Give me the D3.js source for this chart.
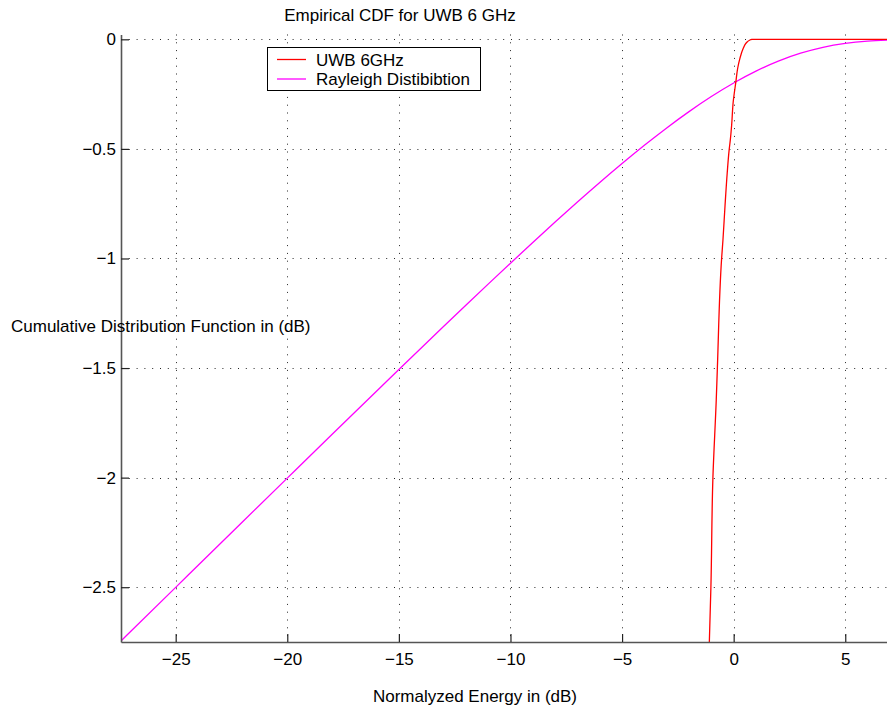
<!DOCTYPE html>
<html>
<head>
<meta charset="utf-8">
<script src="https://cdn.jsdelivr.net/npm/d3@7"></script>
<style>
  html, body { margin: 0; padding: 0; background: #fff; }
  svg { display: block; font-family: "Liberation Sans", Arial, Helvetica, sans-serif; }
</style>
</head>
<body>
<svg id="chart" width="887" height="710"></svg>
<script>
// Normalized energy (dB) and CDF (log10) for the measured UWB 6 GHz channel
const uwbEnergy = [-1.09, -1.02, -0.93, -0.78, -0.73, -0.54, -0.48, -0.39, -0.29, -0.20, -0.15, -0.09, -0.02, 0.10, 0.18, 0.28, 0.43, 0.55, 0.73, 0.81, 6.87];
const uwbCdf    = [-2.75, -2.50, -2.00, -1.645, -1.50, -1.00, -0.916, -0.764, -0.611, -0.502, -0.459, -0.391, -0.285, -0.193, -0.132, -0.087, -0.041, -0.018, -0.003, 0, 0];

// Theoretical Rayleigh distribution, same axes
const rayEnergy = [-27.45, -25, -22, -20, -18, -15, -13, -12, -11, -10, -9, -8, -7, -6, -5, -4, -3, -2, -1, 0, 1, 2, 3, 4, 5, 6, 6.87];
const rayCdf    = [-2.7454, -2.5007, -2.2013, -2.0022, -1.8034, -1.5069, -1.3108, -1.2136, -1.1171, -1.0216, -0.9270, -0.8340, -0.7426, -0.6534, -0.5669, -0.4836, -0.4043, -0.3298, -0.2611, -0.1992, -0.1451, -0.0996, -0.0635, -0.0367, -0.0188, -0.0082, -0.0034];

const xTicks = [-25, -20, -15, -10, -5, 0, 5];
const yTicks = [0, -0.5, -1, -1.5, -2, -2.5];
const seriesNames = ["UWB 6GHz", "Rayleigh Distibibtion"];
const seriesColors = ["#ff0000", "#ff00ff"];

const titleText = "Empirical CDF for UWB 6 GHz";
const xLabelText = "Normalyzed Energy in (dB)";
const yLabelText = "Cumulative Distribution Function in (dB)";

const svg = d3.select("#chart");
const plotLeft = 121, plotRight = 887, plotTop = 34.5, plotBottom = 642;
const fontSize = "17px";

const x = d3.scaleLinear().domain([-27.45, 6.87]).range([plotLeft, plotRight]);
const y = d3.scaleLinear().domain([-2.75, 0.022]).range([plotBottom, plotTop]);

// dotted grid
const grid = svg.append("g").attr("stroke", "#000").attr("stroke-width", 1)
  .attr("stroke-dasharray", "1,6.8").attr("fill", "none").attr("opacity", 0.85);
grid.selectAll("line.v").data(xTicks).join("line").attr("class", "v")
  .attr("x1", d => Math.round(x(d)) + 0.5).attr("x2", d => Math.round(x(d)) + 0.5)
  .attr("y1", plotTop).attr("y2", plotBottom);
grid.selectAll("line.h").data(yTicks).join("line").attr("class", "h")
  .attr("x1", plotLeft).attr("x2", plotRight)
  .attr("y1", d => Math.round(y(d)) + 0.5).attr("y2", d => Math.round(y(d)) + 0.5);

// clip region for the curves
svg.append("clipPath").attr("id", "plotclip").append("rect")
  .attr("x", plotLeft).attr("y", plotTop - 2).attr("width", plotRight - plotLeft).attr("height", plotBottom - plotTop + 2);

const plot = svg.append("g").attr("clip-path", "url(#plotclip)");

const ray = rayEnergy.map((e, i) => [e, rayCdf[i]]);
const uwb = uwbEnergy.map((e, i) => [e, uwbCdf[i]]);

plot.append("path").datum(ray)
  .attr("d", d3.line().x(d => x(d[0])).y(d => y(d[1])).curve(d3.curveMonotoneX))
  .attr("fill", "none").attr("stroke", seriesColors[1]).attr("stroke-width", 1.3);

plot.append("path").datum(uwb)
  .attr("d", d3.line().x(d => x(d[0])).y(d => y(d[1])).curve(d3.curveMonotoneY))
  .attr("fill", "none").attr("stroke", seriesColors[0]).attr("stroke-width", 1.3);

// axes: ticks point inward
const fmt = d => d3.format("")(d).replace("-", "\u2212");
const xAxis = d3.axisBottom(x).tickValues(xTicks).tickSizeInner(-8).tickSizeOuter(0)
  .tickPadding(11).tickFormat(fmt);
const gx = svg.append("g").attr("transform", `translate(0,${plotBottom})`).call(xAxis);

const yAxis = d3.axisLeft(y).tickValues(yTicks).tickSizeInner(-8).tickSizeOuter(0)
  .tickPadding(5).tickFormat(fmt);
const gy = svg.append("g").attr("transform", `translate(${plotLeft},0)`).call(yAxis);

[gx, gy].forEach(g => {
  g.select(".domain").attr("stroke", "#555").attr("stroke-width", 1.6);
  g.selectAll(".tick line").attr("stroke", "#222").attr("stroke-width", 1.2);
  g.selectAll(".tick text").attr("fill", "#000").style("font-size", fontSize)
    .style("font-family", "'Liberation Sans', Arial, sans-serif");
});
gx.selectAll(".tick text").attr("dy", "0.71em");

// titles
svg.append("text").attr("x", 400).attr("y", 21).attr("text-anchor", "middle")
  .style("font-size", fontSize).text(titleText);
svg.append("text").attr("x", 475).attr("y", 702).attr("text-anchor", "middle")
  .style("font-size", fontSize).text(xLabelText);
svg.append("text").attr("x", 11).attr("y", 332).attr("text-anchor", "start")
  .style("font-size", fontSize).text(yLabelText);

// legend
const lg = svg.append("g");
lg.append("rect").attr("x", 267.5).attr("y", 47.5).attr("width", 213).attr("height", 43)
  .attr("fill", "#fff").attr("stroke", "#000").attr("stroke-width", 1);
seriesNames.forEach((name, i) => {
  const cy = 59.5 + i * 19.5;
  lg.append("line").attr("x1", 277).attr("x2", 306).attr("y1", cy).attr("y2", cy)
    .attr("stroke", seriesColors[i]).attr("stroke-width", 1.3);
  lg.append("text").attr("x", 316).attr("y", cy + 6).style("font-size", fontSize).text(name);
});
</script>
</body>
</html>
